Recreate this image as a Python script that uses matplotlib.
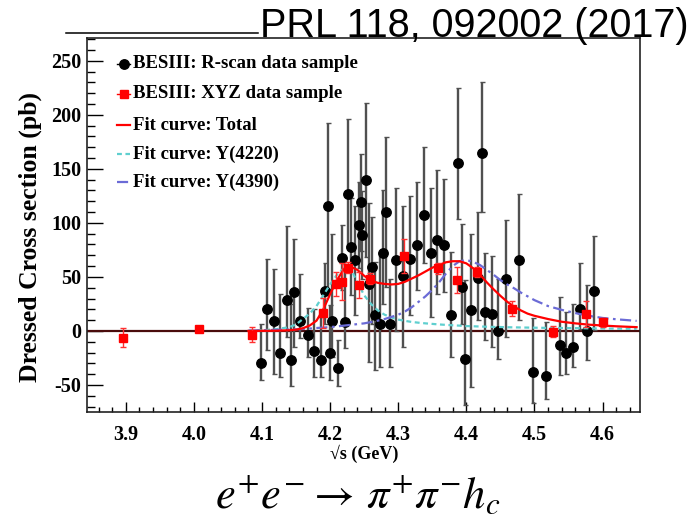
import matplotlib
matplotlib.use("Agg")
import matplotlib.pyplot as plt
from matplotlib.lines import Line2D
import numpy as np

# ---------------- data ----------------
# BESIII R-scan data (black): energy, value, lower edge, upper edge of error bar
rscan_x = [4.098, 4.107, 4.117, 4.127, 4.137, 4.142, 4.147, 4.156, 4.167, 4.177,
           4.187, 4.192, 4.1965, 4.1995, 4.203, 4.212, 4.2176, 4.2215, 4.2265, 4.231,
           4.237, 4.242, 4.2446, 4.247, 4.252, 4.2568, 4.2618, 4.2666, 4.2725, 4.2774,
           4.2824, 4.2872, 4.297, 4.3068, 4.318, 4.328, 4.3377, 4.3475, 4.357, 4.367,
           4.377, 4.3877, 4.393, 4.3975, 4.4073, 4.417, 4.4225, 4.4274, 4.437, 4.447,
           4.4578, 4.4774, 4.498, 4.5176, 4.537, 4.547, 4.5568, 4.567, 4.5769, 4.5868]
rscan_y = [-30, 20, 9, -20, 29, -26.5, 36, 9, -4, -19,
           -26.5, 36.7, 116, -20, 9, -34, 67.6, 8.3, 127, 78,
           65.5, 98, 119, 88.6, 139.5, 43, 59.3, 15, 6.8, 72.2,
           110, 6.8, 66, 50.6, 67, 79.4, 107.7, 72.2, 84, 79.4,
           14.5, 155.6, 40.7, -25.6, 19.2, 49, 165, 17.6, 16, 0,
           47.9, 66, -38, -41.6, -13.2, -20.3, -14.8, 20.7, 0, 36.7]
rscan_lo = [-45.6, -18, -39.5, -42.6, -5.5, -51, -15, -7, -24, -42.6,
            -42.6, 6.8, 39, -45.6, -24, -51, 37.7, -16, 79, 33,
            15, 58, 74, 48, 68, -28.7, 6.8, -36, -33, 25,
            40.7, -33, 0, -15, 14.5, 37.7, 63, 13, 34.6, 36,
            -24, 104, 6.8, -68.8, -51.8, 10, 110, -8.6, -14.8, -25.6,
            -5.5, 10, -67, -62.6, -41, -39.5, -33, 2.2, -27, 0.6]
rscan_hi = [6.8, 67, 57, 34.6, 97, 25, 85, 52.5, 21, 20.7,
            13, 63, 192, 23.8, 90, -8.6, 98, 62, 196, 123,
            116, 138, 164, 129, 211, 118, 105.6, 64, 71.7, 130,
            179.6, 48.5, 131.8, 116, 124.7, 138, 170, 131.8, 148.8, 141,
            73, 225, 98.5, 47, 90, 110, 230, 71.7, 69, 48.5,
            103, 126.5, 12.3, 8.3, 31.5, 17.6, 25.3, 62.4, 42.3, 88]

# BESIII XYZ data (red)
xyz_x = [3.896, 4.008, 4.086, 4.189, 4.208, 4.217, 4.226, 4.242, 4.258,
         4.308, 4.358, 4.387, 4.416, 4.467, 4.527, 4.575, 4.600]
xyz_y = [-6.2, 2.2, -3.4, 16.7, 43.2, 45.4, 58.4, 42.3, 48.2,
         69.2, 57.8, 47.0, 54.6, 20.4, -0.9, 16.0, 7.8]
xyz_err = [9, 2.5, 7, 14, 11, 17, 5, 12, 5,
           16, 5, 12, 5, 7, 5, 12, 4]

# Fit curves
fit_x = [4.08, 4.10, 4.12, 4.14, 4.15, 4.16, 4.17, 4.18, 4.19, 4.20,
         4.21, 4.22, 4.23, 4.24, 4.25, 4.26, 4.27, 4.28, 4.29, 4.30,
         4.31, 4.32, 4.33, 4.34, 4.35, 4.36, 4.37, 4.38, 4.39, 4.40,
         4.41, 4.42, 4.43, 4.44, 4.45, 4.46, 4.47, 4.48, 4.49, 4.50,
         4.52, 4.54, 4.56, 4.58, 4.60, 4.62, 4.65]
fit_total = [0.0, 0.1, 0.2, 0.6, 1.2, 2.5, 5, 9.5, 20, 34,
             47, 57, 59.5, 56.5, 51, 46.5, 44.5, 43.5, 43, 43.5,
             45.5, 48.5, 51.5, 55, 58.5, 61, 63.5, 64.5, 64.5, 62.5,
             58, 52, 45, 38.5, 32.5, 27, 22.5, 19, 16, 14,
             11, 8.5, 7, 5.8, 5, 4.3, 3.5]
fit_y4220 = [0.2, 0.6, 1.5, 3.5, 6, 11, 16, 23, 33, 43,
             52, 58, 58, 45, 33, 25, 19, 15, 12.5, 10.5,
             9.3, 8.3, 7.6, 7, 6.5, 6, 5.6, 5.2, 4.9, 4.5,
             4.3, 4.1, 3.9, 3.7, 3.6, 3.4, 3.3, 3.2, 3.1, 3.0,
             2.8, 2.7, 2.6, 2.4, 2.2, 2.1, 1.9]
fit_y4390 = [0.3, 0.6, 1.0, 1.3, 1.5, 1.8, 2.2, 2.7, 3.1, 3.5,
             4.2, 4.9, 5.6, 6.3, 7, 8.2, 9.5, 11, 13, 15,
             18, 22, 27, 32, 38, 45, 53, 60, 64.5, 65.5,
             64, 61, 56.5, 52, 47, 43, 39.5, 35.5, 32, 28.5,
             23, 19.5, 16.5, 14, 12, 10.8, 9.3]

xticks = [3.9, 4.0, 4.1, 4.2, 4.3, 4.4, 4.5, 4.6]
yticks = [-50, 0, 50, 100, 150, 200, 250]

legend_labels = ["BESIII: R-scan data sample", "BESIII: XYZ data sample",
                 "Fit curve: Total", "Fit curve: Y(4220)", "Fit curve: Y(4390)"]

# ---------------- figure ----------------
W, H = 695, 519
fig = plt.figure(figsize=(W / 100, H / 100), dpi=100)
plt.rcParams["mathtext.fontset"] = "stix"

def fx(px):
    return px / W

def fy(py):
    return 1 - py / H

ax_l, ax_r, ax_t, ax_b = 87, 640, 38, 412
ax = fig.add_axes([fx(ax_l), fy(ax_b), fx(ax_r) - fx(ax_l), fy(ax_t) - fy(ax_b)])

serif_bold = dict(family="Liberation Serif", weight="bold")

ax.set_xlim(3.843, 4.655)
ax.set_ylim(-75, 271)

ax.axhline(0, color="#4a0c0c", lw=1.6, zorder=2)

rx = np.array(rscan_x)
ry = np.array(rscan_y)
rlo = ry - np.array(rscan_lo)
rhi = np.array(rscan_hi) - ry
ax.errorbar(rx, ry, yerr=[rlo, rhi], fmt="o", color="black", ms=6.8,
            ecolor="#505050", elinewidth=1.7, capsize=1.8, capthick=1.0, zorder=3)

ax.plot(fit_x, fit_y4220, color="#5fcfcf", lw=1.6, ls=(0, (2.2, 1.6)), zorder=4)
ax.plot(fit_x, fit_y4390, color="#6b6bd6", lw=1.6, ls=(0, (5, 2, 1.2, 2)), zorder=4)
ax.plot(fit_x, fit_total, color="#ff0000", lw=1.6, zorder=5)

ax.errorbar(xyz_x, xyz_y, yerr=xyz_err, fmt="s", color="#ff0000", ms=5.5,
            ecolor="#ff3030", elinewidth=1.0, capsize=2, capthick=1.0, zorder=6)

# ticks
ax.set_xticks(xticks)
ax.set_xticklabels([f"{t:.1f}" for t in xticks], fontdict=serif_bold, fontsize=14.5)
ax.set_xticks(np.arange(3.86, 4.655, 0.02), minor=True)
ax.set_yticks(yticks)
ax.set_yticklabels([str(t) for t in yticks], fontdict=serif_bold, fontsize=14.5)
ax.set_yticks(np.arange(-70, 271, 10), minor=True)
ax.tick_params(axis="x", which="major", direction="in", length=7.2, width=1.0, pad=9,
               top=False)
ax.tick_params(axis="x", which="minor", direction="in", length=3.6, width=1.0, top=False)
ax.tick_params(axis="y", which="major", direction="in", length=11.5, width=1.0, pad=4,
               right=False)
ax.tick_params(axis="y", which="minor", direction="in", length=5.8, width=1.0, right=False)
for s in ax.spines.values():
    s.set_linewidth(1.2)
    s.set_color("#222222")

ax.set_xlabel("\u221as (GeV)", fontdict=serif_bold, fontsize=13)
ax.xaxis.set_label_coords((364 - ax_l) / (ax_r - ax_l), (ax_b - 454) / (ax_b - ax_t))
ax.xaxis.label.set_va("center")
ax.set_ylabel("Dressed Cross section (pb)", fontdict=serif_bold, fontsize=18.5)
ax.yaxis.set_label_coords((30 - ax_l) / (ax_r - ax_l), (ax_b - 237) / (ax_b - ax_t))
ax.yaxis.label.set_va("center")

# legend (drawn by hand, ROOT style)
leg_y = [64, 93.5, 125, 154.5, 182]
handles = [
    dict(color="black", marker="o", ls="-", ms=6.8, lw=1.0),
    dict(color="#ff0000", marker="s", ls="-", ms=5.5, lw=1.0),
    dict(color="#ff0000", marker=None, ls="-", lw=1.6),
    dict(color="#5fcfcf", marker=None, ls=(0, (2.2, 1.6)), lw=1.6),
    dict(color="#6b6bd6", marker=None, ls=(0, (5, 2, 1.2, 2)), lw=1.6),
]
for yc, lab, hd in zip(leg_y, legend_labels, handles):
    line = Line2D([fx(117), fx(130)], [fy(yc), fy(yc)], transform=fig.transFigure,
                  color=hd["color"], ls=hd["ls"], lw=hd["lw"])
    fig.add_artist(line)
    if hd["marker"]:
        m = Line2D([fx(124)], [fy(yc)], transform=fig.transFigure, color=hd["color"],
                   marker=hd["marker"], ms=hd["ms"], ls="none")
        fig.add_artist(m)
    fig.text(fx(133), fy(yc), lab, ha="left", va="center", fontsize=13.5, **serif_bold)

# slide decorations
fig.add_artist(Line2D([fx(66), fx(258)], [fy(33), fy(33)], transform=fig.transFigure,
                      color="black", lw=1.1))
fig.text(fx(689), fy(37), "PRL 118, 092002 (2017)", ha="right", va="baseline",
         fontsize=28.5, family="Liberation Sans")

fig.text(fx(358), fy(508), r"$e^{+}e^{-}\rightarrow\,\pi^{+}\pi^{-}h_{c}$", ha="center",
         va="baseline", fontsize=32)

fig.savefig("out.png", dpi=100)
